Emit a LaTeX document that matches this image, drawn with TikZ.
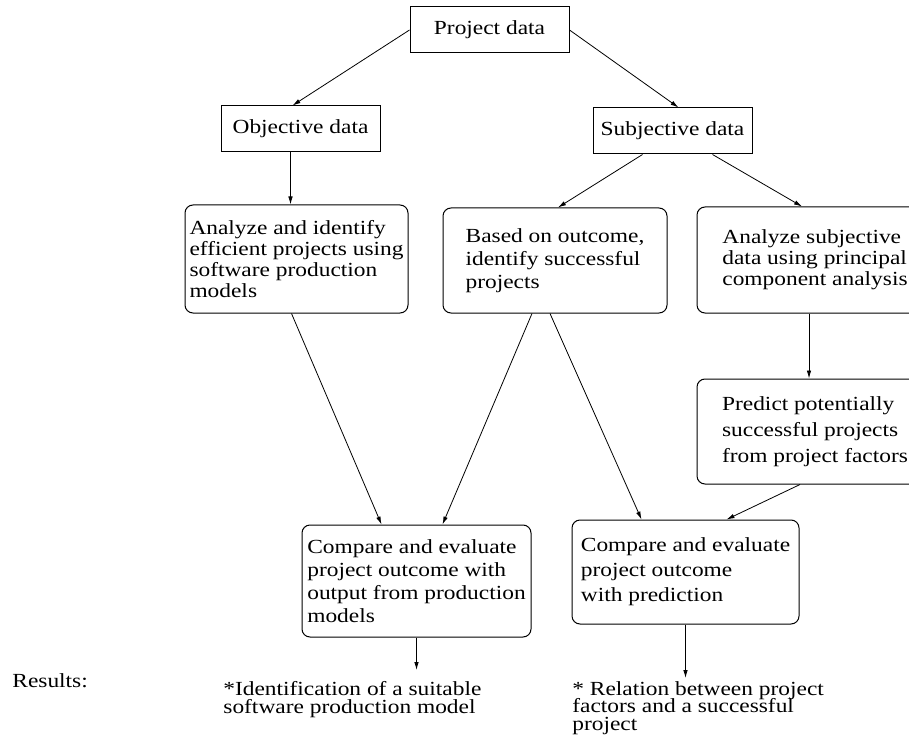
\documentclass[tikz,border=0pt]{standalone}
\usepackage{fontspec}
\setmainfont{Liberation Serif}[FakeStretch=1.17]
\usetikzlibrary{arrows.meta}

\begin{document}
\begin{tikzpicture}[x=1pt, y=-1pt, line width=0.8pt, >={Latex[length=8pt, width=4.5pt]},
  every node/.style={font=\fontsize{20}{23}\selectfont, align=left},
  databox/.style={draw, line width=1pt, minimum width=159pt, minimum height=46pt},
  taskbox/.style={draw, line width=1pt, rounded corners=8pt},
  resulttext/.style={inner sep=0pt, anchor=north west, font={\fontsize{20}{17.5}\selectfont\setlength{\lineskiplimit}{-20pt}}}]
  \useasboundingbox (0,0) rectangle (909,735);

  \node[databox] (proj) at (489.5,30) {Project data};
  \node[databox] (obj) at (300.5,129) {Objective data};
  \node[databox] (subj) at (672.5,131) {Subjective data};

  \node[taskbox, minimum width=223pt, minimum height=108pt, font=\fontsize{20}{21}\selectfont] (anaobj) at (296.5,259) {Analyze and identify\\efficient projects using\\software production\\models};
  \node[taskbox, minimum width=224pt, minimum height=105pt] (based) at (555,260.5) {Based on outcome,\\identify successful\\projects};
  \node[taskbox, minimum width=236pt, minimum height=106pt, font=\fontsize{20}{21}\selectfont] (anasubj) at (815,260) {Analyze subjective\\data using principal\\component analysis};
  \node[taskbox, minimum width=236pt, minimum height=105pt, font=\fontsize{20}{26}\selectfont] (pred) at (815,431.5) {Predict potentially\\successful projects\\from project factors};
  \node[taskbox, minimum width=229pt, minimum height=112pt] (cmp1) at (416.5,581) {Compare and evaluate\\project outcome with\\output from production\\models};
  \node[taskbox, minimum width=227pt, minimum height=104pt, font=\fontsize{20}{25}\selectfont] (cmp2) at (685.5,572) {Compare and evaluate\\project outcome\\with prediction};

  \node[anchor=base west, inner sep=0pt] (reslabel) at (12,687) {Results:};
  \node[resulttext, font={\fontsize{20}{18}\selectfont\setlength{\lineskiplimit}{-20pt}}] (res1) at (223,681) {*Identification of a suitable\\software production model};
  \node[resulttext] (res2) at (572,681) {* Relation between project\\factors and a successful\\project};

  \coordinate (r1) at (416.5,670);
  \coordinate (r2) at (685.5,678);

  \draw[->] (proj.west) -- ([xshift=-8pt]obj.north);
  \draw[->] (proj.east) -- ([xshift=6pt]subj.north);
  \draw[->] ([xshift=-6pt]anaobj.north |- obj.south) -- ([xshift=-6pt]anaobj.north);
  \draw[->] ([xshift=-30pt]subj.south) -- ([xshift=3pt]based.north);
  \draw[->] ([xshift=40pt]subj.south) -- ([xshift=-13pt]anasubj.north);
  \draw[->] ([xshift=-5pt]anaobj.south) -- ([xshift=-35pt]cmp1.north);
  \draw[->] ([xshift=-23pt]based.south) -- ([xshift=26pt]cmp1.north);
  \draw[->] ([xshift=-5pt]based.south) -- ([xshift=-44pt]cmp2.north);
  \draw[->] ([xshift=-6pt]anasubj.south) -- ([xshift=-6pt]pred.north);
  \draw[->] ([xshift=-15pt]pred.south) -- ([xshift=41pt]cmp2.north);
  \draw[->] (cmp1.south) -- (r1);
  \draw[->] (cmp2.south) -- (r2);
\end{tikzpicture}
\end{document}
